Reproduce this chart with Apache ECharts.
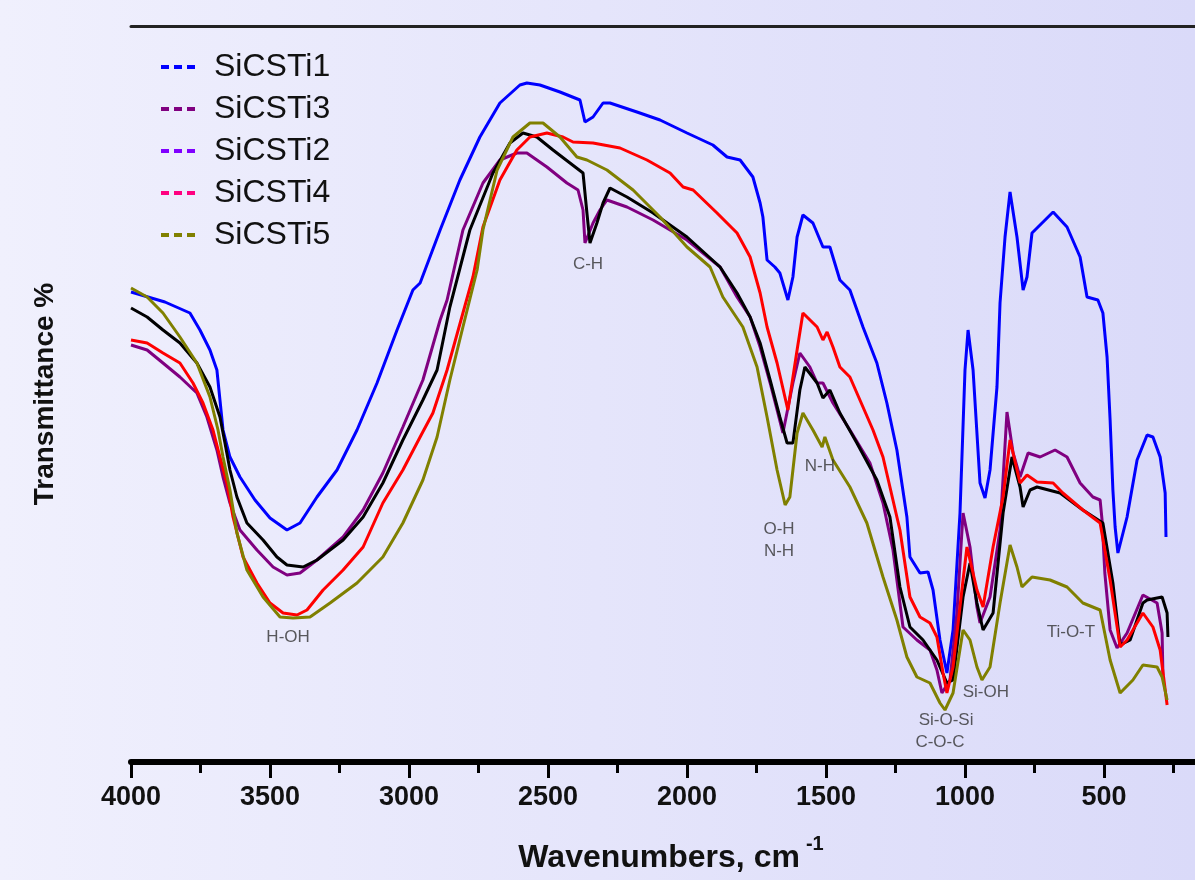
<!DOCTYPE html>
<html>
<head>
<meta charset="utf-8">
<script src="https://cdn.jsdelivr.net/npm/echarts@6/dist/echarts.min.js"></script>
<style>
html,body{margin:0;padding:0;}
#chart{width:1195px;height:880px;}
</style>
</head>
<body>
<div id="chart"></div>
<script>
// wavenumber (cm-1), transmittance (arbitrary units)
var sicsti1 = [[4000,47.0],[3878,46.0],[3788,44.9],[3752,43.2],[3716,41.2],[3691,39.2],[3680,36.2],[3669,33.2],[3644,30.5],[3608,28.5],[3554,26.2],[3500,24.4],[3439,23.2],[3392,23.9],[3331,26.5],[3259,29.2],[3187,33.2],[3115,37.9],[3043,43.2],[2986,47.2],[2960,47.9],[2888,53.2],[2817,58.2],[2745,62.5],[2673,65.9],[2601,67.7],[2576,67.9],[2529,67.7],[2457,67.0],[2385,66.2],[2367,64.0],[2338,64.5],[2302,65.9],[2277,65.9],[2180,65.0],[2097,64.2],[2000,62.9],[1907,61.7],[1856,60.5],[1809,60.2],[1763,58.5],[1737,55.9],[1727,54.5],[1712,50.2],[1684,49.5],[1666,48.9],[1637,46.2],[1619,48.5],[1604,52.5],[1583,54.7],[1547,53.9],[1511,51.5],[1486,51.5],[1450,48.2],[1414,47.2],[1367,43.5],[1317,39.9],[1281,35.9],[1245,31.2],[1209,24.5],[1198,20.5],[1162,18.9],[1133,19.0],[1115,17.2],[1090,12.2],[1065,8.9],[1043,13.2],[1018,24.9],[1000,39.2],[989,43.2],[971,39.2],[946,27.9],[928,26.4],[910,29.2],[885,37.5],[874,45.9],[856,52.5],[838,57.0],[813,52.5],[791,47.2],[777,48.5],[759,52.9],[730,53.7],[683,55.0],[633,53.5],[586,50.5],[561,46.5],[522,46.2],[504,44.9],[489,40.5],[478,34.2],[468,27.2],[460,23.5],[450,20.9],[417,24.5],[381,30.2],[345,32.7],[324,32.5],[298,30.5],[280,26.9],[277,22.5]];

var sicsti3 = [[4000,41.7],[3942,41.2],[3885,39.9],[3824,38.5],[3763,36.9],[3727,34.5],[3691,31.2],[3669,28.5],[3644,25.9],[3608,23.2],[3547,21.2],[3489,19.5],[3439,18.7],[3392,18.9],[3331,20.2],[3237,22.5],[3165,25.2],[3094,28.9],[3022,33.5],[2950,38.2],[2888,44.2],[2863,46.2],[2806,53.2],[2734,57.9],[2673,60.2],[2612,60.9],[2576,60.9],[2504,59.5],[2432,57.9],[2392,57.2],[2374,55.2],[2367,51.9],[2338,53.9],[2313,55.2],[2288,56.2],[2216,55.5],[2122,54.2],[2000,52.2],[1881,49.5],[1820,46.5],[1773,44.5],[1737,41.5],[1701,37.9],[1676,35.2],[1655,32.9],[1619,37.9],[1594,40.9],[1558,39.5],[1532,37.9],[1511,37.9],[1475,35.9],[1414,33.2],[1342,29.9],[1295,25.9],[1259,21.2],[1223,13.5],[1173,12.2],[1126,11.2],[1101,9.2],[1083,6.9],[1054,8.2],[1029,14.9],[1007,24.9],[982,21.5],[957,15.5],[946,13.9],[910,16.5],[874,23.2],[849,35.0],[827,30.9],[802,28.5],[773,30.9],[730,30.5],[676,31.2],[633,30.5],[586,27.9],[540,26.5],[514,26.2],[507,24.2],[497,18.9],[478,13.2],[453,11.4],[417,12.9],[360,16.7],[309,15.9],[291,12.9],[288,8.7]];

var sicsti2 = [[4000,45.4],[3942,44.5],[3885,43.2],[3824,41.9],[3763,39.9],[3716,37.5],[3680,34.5],[3662,31.9],[3644,29.2],[3619,26.5],[3583,23.9],[3525,22.2],[3475,20.5],[3439,19.7],[3381,19.5],[3331,20.2],[3237,22.2],[3165,24.5],[3094,27.9],[3022,32.2],[2950,36.2],[2899,39.2],[2853,45.5],[2781,53.2],[2698,58.9],[2637,61.9],[2590,62.9],[2540,62.5],[2482,61.2],[2421,59.9],[2374,58.9],[2360,54.9],[2349,51.9],[2324,53.9],[2302,55.9],[2277,57.4],[2216,56.5],[2122,54.9],[2000,52.5],[1881,49.5],[1820,46.9],[1773,44.5],[1737,41.9],[1701,38.2],[1666,34.5],[1640,31.9],[1619,31.9],[1594,37.2],[1576,39.5],[1532,37.9],[1511,36.4],[1486,37.2],[1450,34.9],[1389,31.9],[1317,28.2],[1270,24.5],[1234,17.5],[1198,13.5],[1151,12.2],[1101,10.2],[1065,7.9],[1043,8.2],[1007,16.5],[982,19.9],[957,15.9],[935,13.2],[899,14.9],[863,24.9],[831,30.5],[802,27.5],[791,25.5],[766,27.2],[741,27.5],[658,26.9],[576,25.2],[504,23.9],[468,17.9],[442,11.7],[406,12.2],[360,15.9],[345,16.2],[291,16.5],[273,14.9],[270,12.5]];

var sicsti4 = [[4000,42.2],[3942,41.9],[3885,40.9],[3824,39.9],[3777,37.9],[3741,35.9],[3705,33.2],[3680,30.5],[3655,27.9],[3633,24.5],[3597,20.5],[3547,17.9],[3500,15.9],[3453,14.9],[3403,14.7],[3367,15.2],[3309,17.2],[3237,19.2],[3165,21.5],[3094,25.9],[3022,29.2],[2960,32.5],[2914,34.9],[2863,39.2],[2806,44.9],[2770,48.5],[2734,53.5],[2673,58.2],[2612,61.2],[2565,62.5],[2504,62.9],[2446,62.5],[2410,62.0],[2338,61.9],[2241,61.4],[2144,60.2],[2061,58.9],[2014,57.5],[1978,57.2],[1892,54.9],[1820,52.9],[1773,50.5],[1737,46.9],[1712,43.5],[1676,39.9],[1637,35.2],[1604,41.2],[1583,44.9],[1532,43.5],[1511,42.2],[1496,43.0],[1475,41.5],[1450,39.5],[1414,38.5],[1367,35.5],[1331,33.2],[1295,30.5],[1245,24.5],[1234,23.2],[1198,16.5],[1162,14.5],[1126,13.9],[1101,12.5],[1079,8.9],[1065,6.9],[1043,9.5],[1007,18.2],[993,21.5],[982,20.2],[957,17.2],[935,15.5],[899,21.5],[863,26.5],[838,32.2],[802,27.9],[777,28.7],[741,28.0],[683,27.9],[648,26.9],[576,25.2],[514,23.9],[478,18.2],[442,11.5],[417,12.2],[396,13.2],[360,14.9],[324,13.5],[298,11.2],[273,5.7]];

var sicsti5 = [[4000,47.4],[3942,46.5],[3885,44.9],[3824,42.5],[3763,39.9],[3716,36.5],[3687,33.2],[3669,30.5],[3644,27.2],[3619,22.9],[3583,19.2],[3525,16.5],[3464,14.5],[3417,14.4],[3356,14.5],[3284,15.9],[3187,17.9],[3094,20.5],[3022,23.9],[2950,28.2],[2899,32.5],[2853,38.2],[2806,43.5],[2755,49.2],[2734,53.2],[2683,59.2],[2626,62.5],[2565,63.9],[2518,63.9],[2457,62.5],[2396,60.5],[2360,60.2],[2288,59.2],[2194,57.2],[2097,54.5],[2000,51.5],[1917,49.5],[1871,46.5],[1799,43.5],[1748,39.5],[1712,34.5],[1676,29.2],[1647,25.7],[1630,26.5],[1604,32.9],[1583,34.9],[1547,33.2],[1514,31.5],[1504,32.5],[1475,30.2],[1414,27.5],[1353,23.9],[1295,18.5],[1245,14.2],[1209,10.5],[1173,8.5],[1126,7.9],[1090,5.9],[1072,5.2],[1043,6.9],[1007,13.2],[982,12.2],[957,9.5],[939,8.2],[910,9.5],[874,15.9],[838,21.7],[813,19.5],[795,17.5],[759,18.5],[694,18.2],[633,17.5],[576,15.9],[514,15.2],[478,10.2],[442,6.9],[396,8.2],[360,9.7],[309,9.5],[291,8.5],[273,6.2]];

var xTicks = [4000, 3500, 3000, 2500, 2000, 1500, 1000, 500];

// band annotations: [wavenumber, transmittance, text]
var bandLabels = [
  [2356, 49.8, 'C-H'],
  [3435, 12.5, 'H-OH'],
  [1669, 23.3, 'O-H'],
  [1669, 21.1, 'N-H'],
  [1522, 29.6, 'N-H'],
  [925, 7.0, 'Si-OH'],
  [1068, 4.2, 'Si-O-Si'],
  [1090, 2.0, 'C-O-C'],
  [619, 13.0, 'Ti-O-T']
];

var seriesNames = ['SiCSTi1', 'SiCSTi3', 'SiCSTi2', 'SiCSTi4', 'SiCSTi5'];
var seriesData = [sicsti1, sicsti3, sicsti2, sicsti4, sicsti5];
var lineColors = ['#0000ff', '#800080', '#000000', '#ff0000', '#808000'];
var legendColors = ['#0000ff', '#800080', '#8000ff', '#ff0080', '#808000'];

var chart = echarts.init(document.getElementById('chart'));

var series = seriesNames.map(function (n, i) {
  return {
    name: n,
    type: 'line',
    data: seriesData[i],
    symbol: 'none',
    showSymbol: false,
    lineStyle: { color: lineColors[i], width: 3 },
    itemStyle: { color: lineColors[i] },
    z: 3
  };
});
series.push({
  type: 'scatter',
  name: 'labels',
  symbolSize: 0,
  silent: true,
  data: bandLabels.map(function (b) { return { value: [b[0], b[1]], name: b[2] }; }),
  label: {
    show: true,
    position: 'inside',
    formatter: function (p) { return p.name; },
    fontFamily: 'Liberation Sans',
    fontSize: 17,
    color: '#333333'
  },
  z: 4
});

chart.setOption({
  animation: false,
  backgroundColor: {
    type: 'linear', x: 0, y: 0, x2: 1, y2: 0,
    colorStops: [{ offset: 0, color: '#f0f0fd' }, { offset: 1, color: '#dadaf9' }]
  },
  grid: { left: 131, top: 26, width: 1112, height: 736, containLabel: false, outerBoundsMode: 'none' },
  legend: {
    orient: 'vertical',
    left: 154,
    top: 46,
    itemWidth: 38,
    itemHeight: 14,
    itemGap: 10,
    itemStyle: { opacity: 0 },
    lineStyle: { type: [8, 5], width: 4 },
    textStyle: { fontSize: 32, fontFamily: 'Liberation Sans', color: '#111111', lineHeight: 32, padding: [0, 0, 0, 10] },
    data: seriesNames.map(function (n, i) {
      return { name: n, itemStyle: { opacity: 0 }, lineStyle: { color: legendColors[i], type: [8, 5], width: 4 } };
    })
  },
  xAxis: [{
    type: 'value',
    inverse: true,
    min: 0,
    max: 4000,
    interval: 500,
    position: 'bottom',
    axisLine: { show: true, lineStyle: { color: '#000', width: 6 } },
    axisTick: { show: true, inside: false, length: 16, lineStyle: { color: '#000', width: 3 } },
    minorTick: { show: true, splitNumber: 2, length: 11, lineStyle: { color: '#000', width: 3 } },
    splitLine: { show: false },
    axisLabel: {
      fontSize: 27, fontWeight: 'bold', fontFamily: 'Liberation Sans', color: '#111', margin: 22,
      formatter: function (v) { return xTicks.indexOf(v) >= 0 ? String(v) : ''; }
    },
    name: '{a|Wavenumbers, cm}{s|-1}',
    nameLocation: 'middle',
    nameGap: 72,
    nameTextStyle: {
      padding: [0, 32, 0, 0],
      rich: {
        a: { fontSize: 32, fontWeight: 'bold', fontFamily: 'Liberation Sans', color: '#111', lineHeight: 40, verticalAlign: 'bottom' },
        s: { fontSize: 20, fontWeight: 'bold', fontFamily: 'Liberation Sans', color: '#111', lineHeight: 40, verticalAlign: 'top', padding: [0, 0, 0, 6] }
      }
    }
  }, {
    type: 'value',
    inverse: true,
    min: 0,
    max: 4000,
    position: 'top',
    axisLine: { show: true, onZero: false, lineStyle: { color: '#222', width: 3 } },
    axisTick: { show: false },
    axisLabel: { show: false },
    splitLine: { show: false }
  }],
  yAxis: {
    type: 'value',
    min: 0,
    max: 73.6,
    axisLine: { show: true, lineStyle: { color: '#000', width: 3 } },
    axisTick: { show: false },
    axisLabel: { show: false },
    splitLine: { show: false },
    name: 'Transmittance %',
    nameLocation: 'middle',
    nameGap: 72,
    nameTextStyle: { fontSize: 28, fontWeight: 'bold', fontFamily: 'Liberation Sans', color: '#111' }
  },
  series: series
});
</script>
</body>
</html>
